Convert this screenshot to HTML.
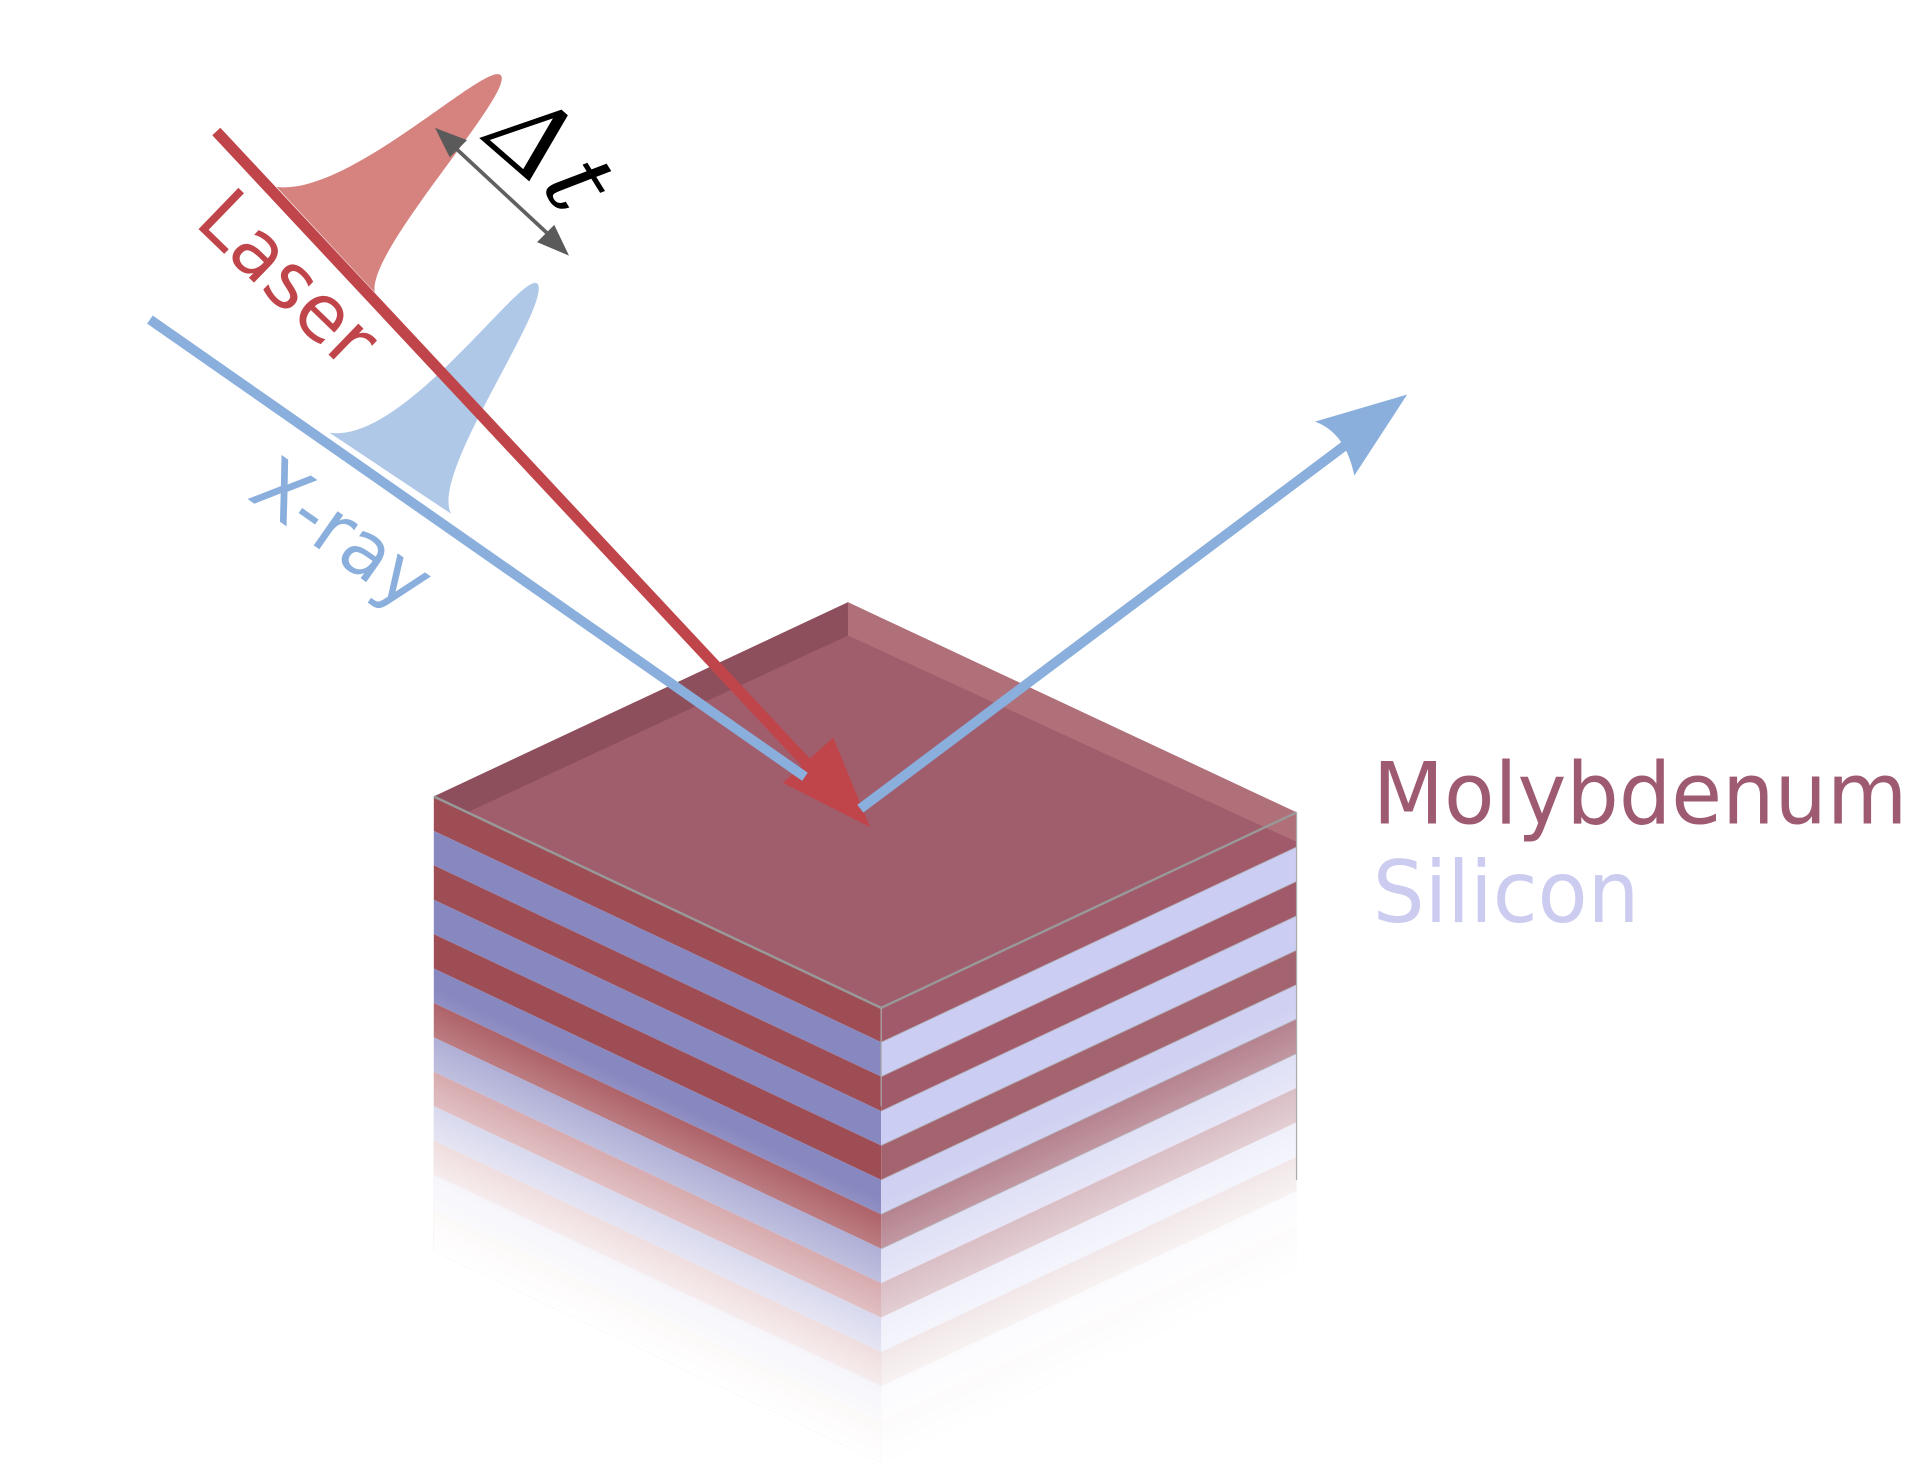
<!DOCTYPE html>
<html><head><meta charset="utf-8"><style>html,body{margin:0;padding:0;background:#fff;overflow:hidden}svg{display:block}</style></head>
<body>
<svg width="1927" height="1470" viewBox="0 0 1568 1196" preserveAspectRatio="none" xmlns="http://www.w3.org/2000/svg" font-family="'DejaVu Sans','Liberation Sans',sans-serif">
<defs>
<linearGradient id="fade" x1="0" y1="0" x2="0" y2="1">
<stop offset="0" stop-color="#fff" stop-opacity="0"/>
<stop offset="0.42" stop-color="#fff" stop-opacity="0"/>
<stop offset="0.85" stop-color="#fff" stop-opacity="0.85"/>
<stop offset="1" stop-color="#fff" stop-opacity="1"/>
</linearGradient>
</defs>
<!-- left face -->
<g transform="matrix(1,0.4725,0,1,353,648)">
<rect x="0" y="0" width="364" height="28" fill="#9e4d55"/>
<rect x="0" y="28" width="364" height="28" fill="#8888c0"/>
<rect x="0" y="56" width="364" height="28" fill="#9e4d55"/>
<rect x="0" y="84" width="364" height="28" fill="#8888c0"/>
<rect x="0" y="112" width="364" height="28" fill="#9e4d55"/>
<rect x="0" y="140" width="364" height="28" fill="#8888c0"/>
<rect x="0" y="168" width="364" height="28" fill="#a8585e"/>
<rect x="0" y="196" width="364" height="28" fill="#9a9acc"/>
<rect x="0" y="224" width="364" height="28" fill="#c07a80"/>
<rect x="0" y="252" width="364" height="28" fill="#b0b0dc"/>
<rect x="0" y="280" width="364" height="28" fill="#d09a9e"/>
<rect x="0" y="308" width="364" height="28" fill="#c8c8e8"/>
<rect x="0" y="336" width="364" height="34" fill="#e0b8ba"/>
<rect x="0" y="0" width="364" height="370" fill="url(#fade)"/>
</g>
<!-- right face -->
<g transform="matrix(1,-0.470,0,1,717,820)">
<rect x="0" y="0" width="338" height="28" fill="#a05a6a"/>
<rect x="0" y="28" width="338" height="28" fill="#cccdf2"/>
<rect x="0" y="56" width="338" height="28" fill="#a05a6a"/>
<rect x="0" y="84" width="338" height="28" fill="#cccdf2"/>
<rect x="0" y="112" width="338" height="28" fill="#a4646f"/>
<rect x="0" y="140" width="338" height="28" fill="#d0d0f2"/>
<rect x="0" y="168" width="338" height="28" fill="#b07a88"/>
<rect x="0" y="196" width="338" height="28" fill="#d8d8f4"/>
<rect x="0" y="224" width="338" height="28" fill="#c49aa4"/>
<rect x="0" y="252" width="338" height="28" fill="#e0e0f6"/>
<rect x="0" y="280" width="338" height="28" fill="#d6b8bc"/>
<rect x="0" y="308" width="338" height="28" fill="#eaeaf8"/>
<rect x="0" y="336" width="338" height="34" fill="#e6d2d4"/>
<rect x="0" y="0" width="338" height="370" fill="url(#fade)"/>
<g stroke="#aaa" stroke-width="1" opacity="0.6">
<line x1="0" y1="28" x2="338" y2="28"/><line x1="0" y1="56" x2="338" y2="56"/><line x1="0" y1="84" x2="338" y2="84"/><line x1="0" y1="112" x2="338" y2="112"/><line x1="0" y1="140" x2="338" y2="140"/><line x1="0" y1="168" x2="338" y2="168"/><line x1="0" y1="196" x2="338" y2="196"/>
</g>
</g>
<!-- top face -->
<polygon points="353,648 690,490 1055,661 717,820" fill="#a05d6c"/>
<polygon points="353,648 690,490 690,517 378,662" fill="#8e4f5c"/>
<polygon points="690,490 1055,661 1055,685 690,517" fill="#b0707a"/>
<polyline points="353,648 717,820 1055,661" fill="none" stroke="#999" stroke-width="2"/>
<line x1="717" y1="820" x2="717" y2="900" stroke="#aaa" stroke-width="1"/>
<line x1="1055" y1="661" x2="1055" y2="960" stroke="#aaa" stroke-width="1"/>

<!-- pulses -->
<path d="M225,152 C285,160 400,45 408,62 C415,80 298,205 305,238 Z" fill="#d6827f"/>
<path d="M268,352 C330,362 430,212 438,232 C445,255 350,385 367,418 Z" fill="#b0c8e8"/>

<!-- beams -->
<line x1="176" y1="107" x2="662" y2="627" stroke="#c0454a" stroke-width="9"/>
<polygon points="708,673 637,637 678,600" fill="#c0454a"/>
<line x1="122" y1="260" x2="655" y2="632" stroke="#8aafdc" stroke-width="8"/>
<line x1="700" y1="658" x2="1095" y2="362" stroke="#8aafdc" stroke-width="8"/>
<path d="M1145,321 L1070,343 Q1095,352 1102,387 Z" fill="#8aafdc"/>

<!-- delta t -->
<line x1="368" y1="118" x2="452" y2="196" stroke="#606060" stroke-width="3"/>
<polygon points="354,104 380,114 366,128" fill="#5a5a5a"/>
<polygon points="463,208 437,197 451,183" fill="#5a5a5a"/>
<text x="0" y="0" transform="translate(392,114) rotate(41)" font-family="'DejaVu Serif','Liberation Serif',serif" font-style="italic" font-size="84" fill="#000">Δ</text>
<text x="0" y="0" transform="translate(440,150) rotate(58)" font-family="'DejaVu Serif','Liberation Serif',serif" font-style="italic" font-size="80" fill="#000">t</text>

<text transform="translate(157,182) rotate(44)" font-size="64" fill="#c0454a">Laser</text>
<text transform="translate(200,405) rotate(35)" font-size="62" fill="#8aafdc">X-ray</text>

<text x="1117" y="670" font-size="70" textLength="435" lengthAdjust="spacingAndGlyphs" fill="#9e5a70">Molybdenum</text>
<text x="1117" y="750" font-size="70" textLength="217" lengthAdjust="spacingAndGlyphs" fill="#ccccf0">Silicon</text>
</svg>
</body></html>
